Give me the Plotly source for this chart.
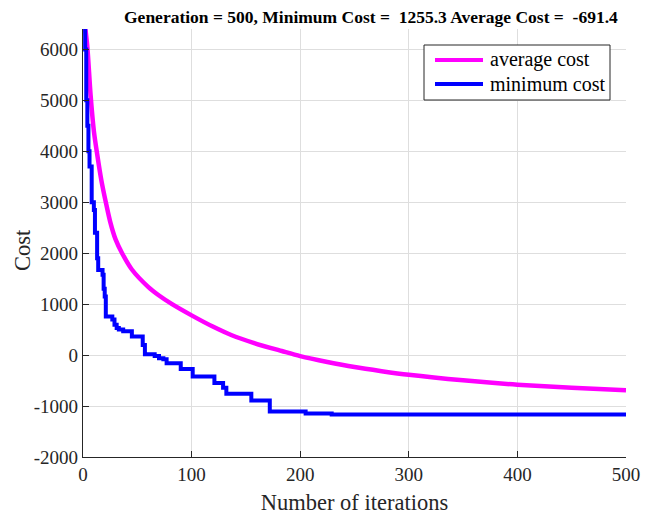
import plotly.graph_objects as go

# Average cost
avg_iter = [1, 2, 4, 7, 10, 13, 17, 21, 25, 30, 36, 45, 60, 70, 82, 100, 120, 137, 157, 183, 200, 225, 250, 275, 300, 350, 400, 450, 500]
avg_cost = [6750, 6450, 6050, 5100, 4400, 3950, 3420, 3000, 2620, 2270, 2000, 1680, 1340, 1170, 1000, 780, 555, 390, 240, 80, -20, -135, -235, -315, -386, -495, -580, -640, -691.4]

# Minimum cost (step changes)
min_iter = [1, 2, 3, 4, 5, 6, 8, 10, 11, 13, 14, 18, 19, 20, 21, 27, 29, 31, 33, 37, 45, 55, 57, 66, 70, 74, 77, 90, 101, 121, 129, 132, 155, 172, 205, 229, 500]
min_cost = [6450, 6000, 5000, 4500, 4000, 3700, 3000, 2850, 2400, 1900, 1670, 1575, 1300, 1150, 757, 700, 594, 530, 500, 470, 365, 200, 15, -20, -60, -80, -160, -275, -420, -550, -640, -760, -890, -1105, -1145, -1165, -1165]

x_ticks = [0, 100, 200, 300, 400, 500]
y_ticks = [-2000, -1000, 0, 1000, 2000, 3000, 4000, 5000, 6000]
y_ticktext = [str(v) for v in y_ticks]

series_names = ["average cost", "minimum cost"]
series_colors = ["#FF00FF", "#0000FF"]

title_text = "Generation = 500, Minimum Cost =  1255.3 Average Cost =  -691.4"

FONT = "Liberation Serif"
W, H = 652, 517
L, R, T, B = 83, 26, 29, 60
PW, PH = W - L - R, H - T - B


def px_x(px):
    return (px - L) / PW


def px_y(py):
    return (H - B - py) / PH


fig = go.Figure()
fig.add_trace(go.Scatter(x=avg_iter, y=avg_cost, mode="lines", name=series_names[0],
                         line=dict(color=series_colors[0], width=4.5, shape="spline", smoothing=0.8)))
fig.add_trace(go.Scatter(x=min_iter, y=min_cost, mode="lines", name=series_names[1],
                         line=dict(color=series_colors[1], width=4, shape="hv")))

shapes = []
annotations = []
# legend box
shapes.append(dict(type="rect", xref="paper", yref="paper",
                   x0=px_x(424), x1=px_x(610), y0=px_y(100), y1=px_y(45),
                   line=dict(color="#262626", width=1), fillcolor="white", layer="above"))
for i, (name, col) in enumerate(zip(series_names, series_colors)):
    yy = 60 + 24 * i
    shapes.append(dict(type="line", xref="paper", yref="paper",
                       x0=px_x(435), x1=px_x(483), y0=px_y(yy), y1=px_y(yy),
                       line=dict(color=col, width=4), layer="above"))
    annotations.append(dict(text=name, xref="paper", yref="paper", x=px_x(488), y=px_y(yy),
                            xanchor="left", yanchor="middle", showarrow=False,
                            font=dict(family=FONT, size=20, color="black")))
# title
annotations.append(dict(text="<b>" + title_text + "</b>", xref="paper", yref="paper",
                        x=px_x(371), y=px_y(17), xanchor="center", yanchor="middle",
                        showarrow=False, font=dict(family=FONT, size=17.5, color="black")))
# y-axis title
annotations.append(dict(text="Cost", xref="paper", yref="paper",
                        x=px_x(22), y=px_y(250), xanchor="center", yanchor="middle",
                        textangle=-90, showarrow=False,
                        font=dict(family=FONT, size=22.5, color="#262626")))

fig.update_layout(
    width=W, height=H,
    margin=dict(l=L, r=R, t=T, b=B),
    paper_bgcolor="white", plot_bgcolor="white",
    font=dict(family=FONT, color="#262626", size=18),
    showlegend=False,
    shapes=shapes, annotations=annotations,
)
fig.update_xaxes(range=[0, 500], tickvals=x_ticks, ticktext=[str(v) for v in x_ticks],
                 showgrid=True, gridcolor="#dedede", gridwidth=1,
                 showline=True, linecolor="#262626", linewidth=1.2,
                 ticks="inside", ticklen=6, tickcolor="#262626", automargin=False,
                 zeroline=False, tickfont=dict(size=19, family=FONT, color="#262626"),
                 title=dict(text="Number of iterations", font=dict(size=22.5, family=FONT, color="#262626"), standoff=10))
fig.update_yaxes(range=[-2000, 6400], tickvals=y_ticks, ticktext=y_ticktext,
                 showgrid=True, gridcolor="#dedede", gridwidth=1,
                 showline=True, linecolor="#262626", linewidth=1.2,
                 ticks="inside", ticklen=6, tickcolor="#262626", automargin=False,
                 zeroline=False, tickfont=dict(size=19, family=FONT, color="#262626"))

fig.write_html("out.html")
